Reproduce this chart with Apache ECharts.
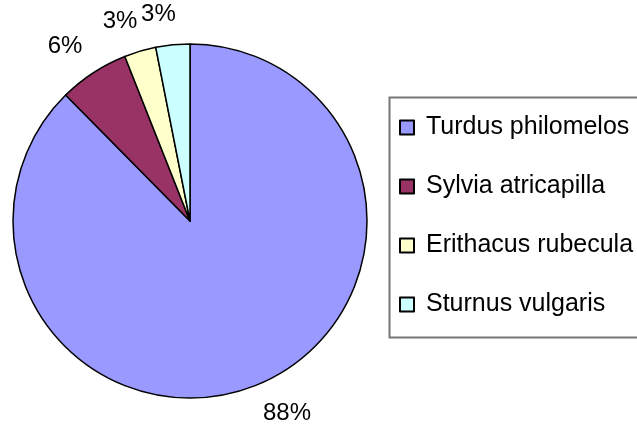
<!DOCTYPE html>
<html>
<head>
<meta charset="utf-8">
<script src="https://cdn.jsdelivr.net/npm/echarts@6/dist/echarts.min.js"></script>
<style>
  html, body { margin: 0; padding: 0; background: #fff; }
  #pie-chart { width: 637px; height: 430px; }
</style>
</head>
<body>
<div id="pie-chart"></div>
<script>
// Data (shares in percent)
const species = ['Turdus philomelos', 'Sylvia atricapilla', 'Erithacus rubecula', 'Sturnus vulgaris'];
const shares = [87.6, 6.4, 2.9, 3.1];
const colors = ['#9999FF', '#993366', '#FFFFCC', '#CCFFFF'];

const chartDom = document.getElementById('pie-chart');
const myChart = echarts.init(chartDom, null, { renderer: 'canvas' });

const font = 'Liberation Sans, Arial, Helvetica, sans-serif';

const option = {
  animation: false,
  color: colors,
  // legend frame drawn separately so it can run off the right edge like the original
  graphic: [
    {
      type: 'rect',
      left: 387,
      top: 95,
      shape: { width: 320, height: 240 },
      style: { fill: 'none', stroke: '#777', lineWidth: 2 },
      silent: true,
    },
  ],
  legend: {
    orient: 'vertical',
    left: 388,
    top: 96,
    padding: [19, 10, 19, 11],
    itemGap: 34,
    itemWidth: 14,
    itemHeight: 14,
    icon: 'rect',
    selectedMode: false,
    itemStyle: { borderColor: '#000', borderWidth: 2 },
    textStyle: { fontFamily: font, fontSize: 25, color: '#000', padding: [0, 0, 0, 7] },
    data: species,
  },
  series: [
    {
      type: 'pie',
      center: [190, 221],
      radius: 177,
      startAngle: 90,
      clockwise: true,
      avoidLabelOverlap: false,
      percentPrecision: 0,
      silent: true,
      itemStyle: { borderColor: '#000', borderWidth: 1.5 },
      label: {
        show: true,
        position: 'outside',
        formatter: '{d}%',
        fontFamily: font,
        fontSize: 24,
        color: '#000',
        distanceToLabelLine: -6,
      },
      labelLine: { show: false, length: 31, length2: 0 },
      emphasis: { disabled: true },
      data: species.map((name, i) => ({ name, value: shares[i] })),
    },
  ],
};

myChart.setOption(option);
</script>
</body>
</html>
